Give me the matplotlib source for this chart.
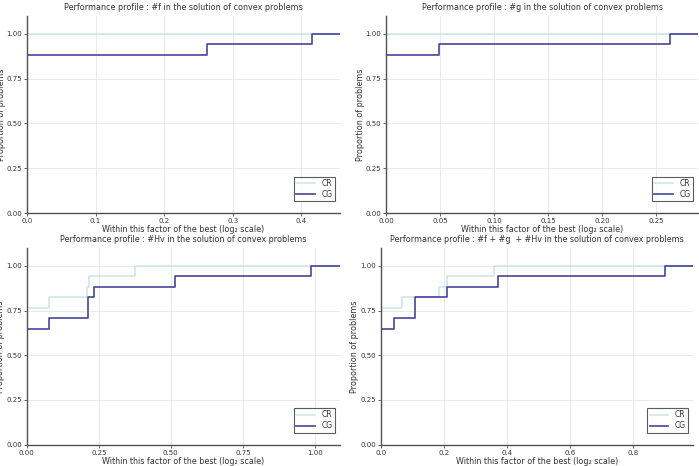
import numpy as np
import matplotlib
matplotlib.use("Agg")
import matplotlib.pyplot as plt

# step profiles: breakpoints (log2 factor) and proportions (k/17)
f_cr_x = [0.0, 0.0]
f_cr_y = [0.0, 1.0]
f_cg_x = [0.0, 0.0, 0.263, 0.415]
f_cg_y = [0.0, 15/17, 16/17, 1.0]

g_cr_x = [0.0, 0.0]
g_cr_y = [0.0, 1.0]
g_cg_x = [0.0, 0.0, 0.0488, 0.263]
g_cg_y = [0.0, 15/17, 16/17, 1.0]

hv_cr_x = [0.0, 0.0, 0.0765, 0.208, 0.215, 0.377]
hv_cr_y = [0.0, 13/17, 14/17, 15/17, 16/17, 1.0]
hv_cg_x = [0.0, 0.0, 0.0765, 0.214, 0.235, 0.514, 0.988]
hv_cg_y = [0.0, 11/17, 12/17, 14/17, 15/17, 16/17, 1.0]

all_cr_x = [0.0, 0.0, 0.0664, 0.186, 0.209, 0.36]
all_cr_y = [0.0, 13/17, 14/17, 15/17, 16/17, 1.0]
all_cg_x = [0.0, 0.0, 0.043, 0.109, 0.211, 0.370, 0.9]
all_cg_y = [0.0, 11/17, 12/17, 14/17, 15/17, 16/17, 1.0]

titles = [
    "Performance profile : #f in the solution of convex problems",
    "Performance profile : #g in the solution of convex problems",
    "Performance profile : #Hv in the solution of convex problems",
    "Performance profile : #f + #g  + #Hv in the solution of convex problems",
]
xmax = [0.4565, 0.289, 1.087, 0.99]
xticks = [
    ([0.0, 0.1, 0.2, 0.3, 0.4], ["0.0", "0.1", "0.2", "0.3", "0.4"]),
    ([0.0, 0.05, 0.1, 0.15, 0.2, 0.25], ["0.00", "0.05", "0.10", "0.15", "0.20", "0.25"]),
    ([0.0, 0.25, 0.5, 0.75, 1.0], ["0.00", "0.25", "0.50", "0.75", "1.00"]),
    ([0.0, 0.2, 0.4, 0.6, 0.8], ["0.0", "0.2", "0.4", "0.6", "0.8"]),
]
data = [
    (f_cr_x, f_cr_y, f_cg_x, f_cg_y),
    (g_cr_x, g_cr_y, g_cg_x, g_cg_y),
    (hv_cr_x, hv_cr_y, hv_cg_x, hv_cg_y),
    (all_cr_x, all_cr_y, all_cg_x, all_cg_y),
]

W, H = 699, 466
# axes boxes in pixels: left, right, top, bottom
boxes = [(27, 340, 16, 213), (386, 698, 16, 213),
         (26.7, 340, 248, 444.7), (380.7, 693.3, 248, 444.7)]

col_cr = "#cde6e6"
col_cg = "#45459a"
spine_col = "#505050"

fig = plt.figure(figsize=(W / 100, H / 100), dpi=100)
for i in range(4):
    l, r, t, b = boxes[i]
    ax = fig.add_axes([l / W, 1 - b / H, (r - l) / W, (b - t) / H])
    crx, cry, cgx, cgy = data[i]
    # extend each step to the right edge
    ax.step(list(crx) + [xmax[i]], list(cry) + [cry[-1]], where="post",
            color=col_cr, lw=1.1, label="CR")
    ax.step(list(cgx) + [xmax[i]], list(cgy) + [cgy[-1]], where="post",
            color=col_cg, lw=1.2, label="CG")
    ax.set_xlim(0, xmax[i])
    ax.set_ylim(0, 1.1)
    ax.set_xticks(xticks[i][0])
    ax.set_xticklabels(xticks[i][1])
    ax.set_yticks([0, 0.25, 0.5, 0.75, 1.0])
    ax.set_yticklabels(["0.00", "0.25", "0.50", "0.75", "1.00"])
    ax.grid(True, color="#e6e6e6", lw=0.6)
    ax.set_axisbelow(True)
    for s in ["top", "right"]:
        ax.spines[s].set_visible(False)
    for s in ["left", "bottom"]:
        ax.spines[s].set_color(spine_col)
        ax.spines[s].set_linewidth(1.0)
    ax.tick_params(labelsize=5, length=2, width=0.6, color=spine_col,
                   labelcolor="#333333", pad=1.5)
    ax.set_title(titles[i], fontsize=5.8, color="#333333", pad=4)
    ax.set_xlabel("Within this factor of the best (log\u2082 scale)", fontsize=5.8,
                  color="#333333", labelpad=1)
    ax.set_ylabel("Proportion of problems", fontsize=5.8, color="#333333", labelpad=0.5)
    leg = ax.legend(loc="lower right", bbox_to_anchor=(1 - 5 / (r - l), 12 / (b - t)),
                    fontsize=5.5, frameon=True, fancybox=False,
                    handlelength=2.4, borderpad=0.3, labelspacing=0.25,
                    borderaxespad=0, handletextpad=0.9)
    leg.get_frame().set_edgecolor("#333333")
    leg.get_frame().set_linewidth(0.8)
    for txt in leg.get_texts():
        txt.set_color("#333333")

fig.savefig("out.png", dpi=100)
